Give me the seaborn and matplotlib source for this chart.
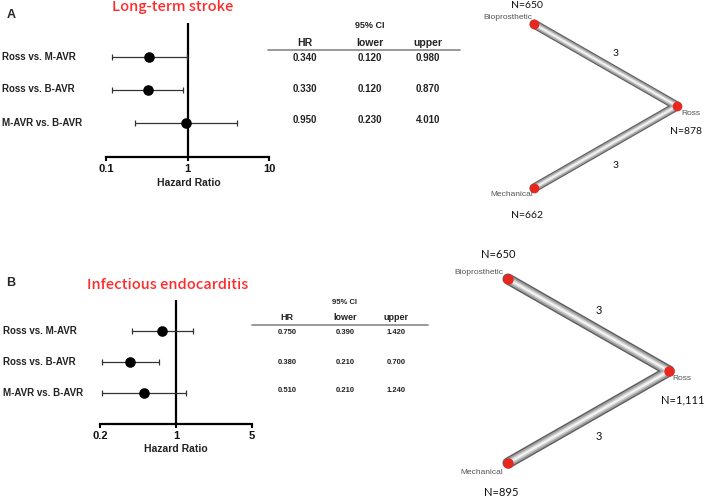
import numpy as np
import pandas as pd
import matplotlib
matplotlib.use("Agg")
import matplotlib.pyplot as plt
import seaborn as sns

# ---------------- data ----------------
comparisons = ["Ross vs. M-AVR", "Ross vs. B-AVR", "M-AVR vs. B-AVR"]

stroke_hr = [0.340, 0.330, 0.950]
stroke_lower = [0.120, 0.120, 0.230]
stroke_upper = [0.980, 0.870, 4.010]

ie_hr = [0.750, 0.380, 0.510]
ie_lower = [0.390, 0.210, 0.210]
ie_upper = [1.420, 0.700, 1.240]

stroke_ticks = [0.1, 1, 10]
ie_ticks = [0.2, 1, 5]

treatments = ["Bioprosthetic", "Ross", "Mechanical"]
stroke_n = ["N=650", "N=878", "N=662"]
ie_n = ["N=650", "N=1,111", "N=895"]
edge_counts = ["3", "3"]

# ---------------- figure ----------------
sns.set_theme(style="white")
plt.rcParams['font.family'] = ['Liberation Sans', 'DejaVu Sans']

W, H = 709, 499
fig = plt.figure(figsize=(W / 100, H / 100), dpi=100)
bg = fig.add_axes([0, 0, 1, 1])
bg.set_xlim(0, W)
bg.set_ylim(H, 0)
bg.axis("off")


def fig_rect(x0, y0, x1, y1):
    return [x0 / W, 1 - y1 / H, (x1 - x0) / W, (y1 - y0) / H]


def forest(rect, hr, lo, up, ticks, ylims, ticksize):
    ax = fig.add_axes(rect)
    ax.set_facecolor("none")
    df = pd.DataFrame({"comp": comparisons, "hr": hr, "lo": lo, "up": up,
                       "pos": np.arange(len(comparisons))})
    ax.errorbar(df["hr"], df["pos"],
                xerr=[df["hr"] - df["lo"], df["up"] - df["hr"]],
                fmt="none", ecolor="#333333", elinewidth=0.9, capsize=2.2,
                capthick=0.9, zorder=2)
    sns.scatterplot(data=df, x="hr", y="pos", ax=ax, color="black", s=58,
                    edgecolor="black", linewidth=0, zorder=3, legend=False)
    ax.axvline(1, color="black", lw=1.6, zorder=1)
    ax.set_xscale("log")
    ax.set_xlim(ticks[0], ticks[-1])
    ax.set_ylim(*ylims)
    ax.set_xticks(ticks)
    ax.set_xticklabels([f"{t:g}" for t in ticks], fontweight="bold",
                       fontsize=ticksize, color="#111111")
    ax.xaxis.set_minor_locator(matplotlib.ticker.NullLocator())
    ax.set_yticks([])
    ax.tick_params(axis="x", direction="out", length=3, width=1.5,
                   color="black", pad=2, bottom=True)
    for s in ["left", "right", "top"]:
        ax.spines[s].set_visible(False)
    ax.spines["bottom"].set_linewidth(1.6)
    ax.spines["bottom"].set_color("black")
    ax.set_xlabel("")
    ax.set_ylabel("")
    return ax


def tube(x0, y0, x1, y1, w):
    bg.plot([x0, x1], [y0, y1], color="#5e5e5e", lw=w, solid_capstyle="round", zorder=2)
    bg.plot([x0, x1], [y0, y1], color="#a0a0a0", lw=w * 0.75, solid_capstyle="round", zorder=3)
    bg.plot([x0, x1], [y0, y1], color="#d0d0d0", lw=w * 0.45, solid_capstyle="round", zorder=4)
    bg.plot([x0, x1], [y0, y1], color="#f4f4f4", lw=w * 0.18, solid_capstyle="round", zorder=5)


def network(pos, nvals, npos, lpos, epos, tubew, nsize, nfs, lfs):
    bio, ross, mech = pos
    tube(*bio, *ross, tubew)
    tube(*mech, *ross, tubew)
    for (x, y) in pos:
        bg.plot(x, y, "o", color="#e8281f", ms=nsize, mec="#e8281f", zorder=6)
    for name, (x, y, ha) in zip(treatments, lpos):
        bg.text(x, y, name, fontsize=lfs, color="#555555", ha=ha, va="center", zorder=7)
    for n, (x, y) in zip(nvals, npos):
        bg.text(x, y, n, fontsize=nfs, color="#111111", ha="center", va="center",
                family=["Lato", "DejaVu Sans"], zorder=7)
    for c, (x, y) in zip(edge_counts, epos):
        bg.text(x, y, c, fontsize=nfs, color="#111111", ha="center", va="center",
                family=["Lato", "DejaVu Sans"], zorder=7)


def table(xs, y95, yhead, yline, xline, rows, hr, lo, up, hfs, vfs, cifs):
    bg.text((xs[1]), y95, "95% CI", fontsize=cifs, fontweight="bold",
            ha="center", va="center", color="#222222")
    for x, h in zip(xs, ["HR", "lower", "upper"]):
        bg.text(x, yhead, h, fontsize=hfs, fontweight="bold", ha="center",
                va="center", color="#222222")
    bg.plot(xline, [yline, yline], color="#888888", lw=1.2)
    for i, y in enumerate(rows):
        for x, v in zip(xs, [hr[i], lo[i], up[i]]):
            bg.text(x, y, f"{v:.3f}", fontsize=vfs, fontweight="bold",
                    ha="center", va="center", color="#222222")


title_family = ["Noto Sans CJK JP", "DejaVu Sans"]

# ---------------- panel A ----------------
bg.text(11, 15, "A", fontsize=9, fontweight="bold", ha="center", va="center")
bg.text(173, 7, "Long-term stroke", fontsize=10.5, color="#ff2a2a",
        ha="center", va="center", family=title_family, fontweight="medium")
axA = forest(fig_rect(106, 23, 269, 157), stroke_hr, stroke_lower, stroke_upper,
             stroke_ticks, (3.03, -1.03), 8)
for y, c in zip([57, 89, 123], comparisons):
    bg.text(2, y, c, fontsize=7, fontweight="bold", ha="left", va="center",
            color="#222222")
bg.text(189, 183, "Hazard Ratio", fontsize=7.5, fontweight="bold",
        ha="center", va="center", color="#222222")
table([305, 370, 428], 25, 43, 50, [268, 460], [58, 89, 120],
      stroke_hr, stroke_lower, stroke_upper, 7.5, 7, 6.5)
network([(534, 24), (677, 106), (534, 188)], stroke_n,
        [(527, 5), (686, 131), (527, 215)],
        [(532, 17, "right"), (681, 113, "left"), (533, 195, "right")],
        [(616, 53), (616, 165)], 6.5, 6, 7.5, 6)

# ---------------- panel B ----------------
bg.text(11, 283, "B", fontsize=9, fontweight="bold", ha="center", va="center")
bg.text(168, 285, "Infectious endocarditis", fontsize=10.5, color="#ff2a2a",
        ha="center", va="center", family=title_family, fontweight="medium")
axB = forest(fig_rect(100, 300, 252, 424), ie_hr, ie_lower, ie_upper,
             ie_ticks, (3.0, -1.0), 8)
for y, c in zip([331, 362, 393], comparisons):
    bg.text(3, y, c, fontsize=7, fontweight="bold", ha="left", va="center",
            color="#222222")
bg.text(176, 449, "Hazard Ratio", fontsize=7.5, fontweight="bold",
        ha="center", va="center", color="#222222")
table([287, 345, 396], 303, 318, 325, [252, 428], [332, 362, 391],
      ie_hr, ie_lower, ie_upper, 6.5, 5.5, 5.5)
network([(508, 279), (669, 371), (508, 463)], ie_n,
        [(498, 255), (683, 400), (501, 493)],
        [(503, 273, "right"), (672, 378, "left"), (503, 472, "right")],
        [(599, 310), (599, 437)], 8, 6.5, 8, 6)

fig.savefig("out.png", dpi=100)
